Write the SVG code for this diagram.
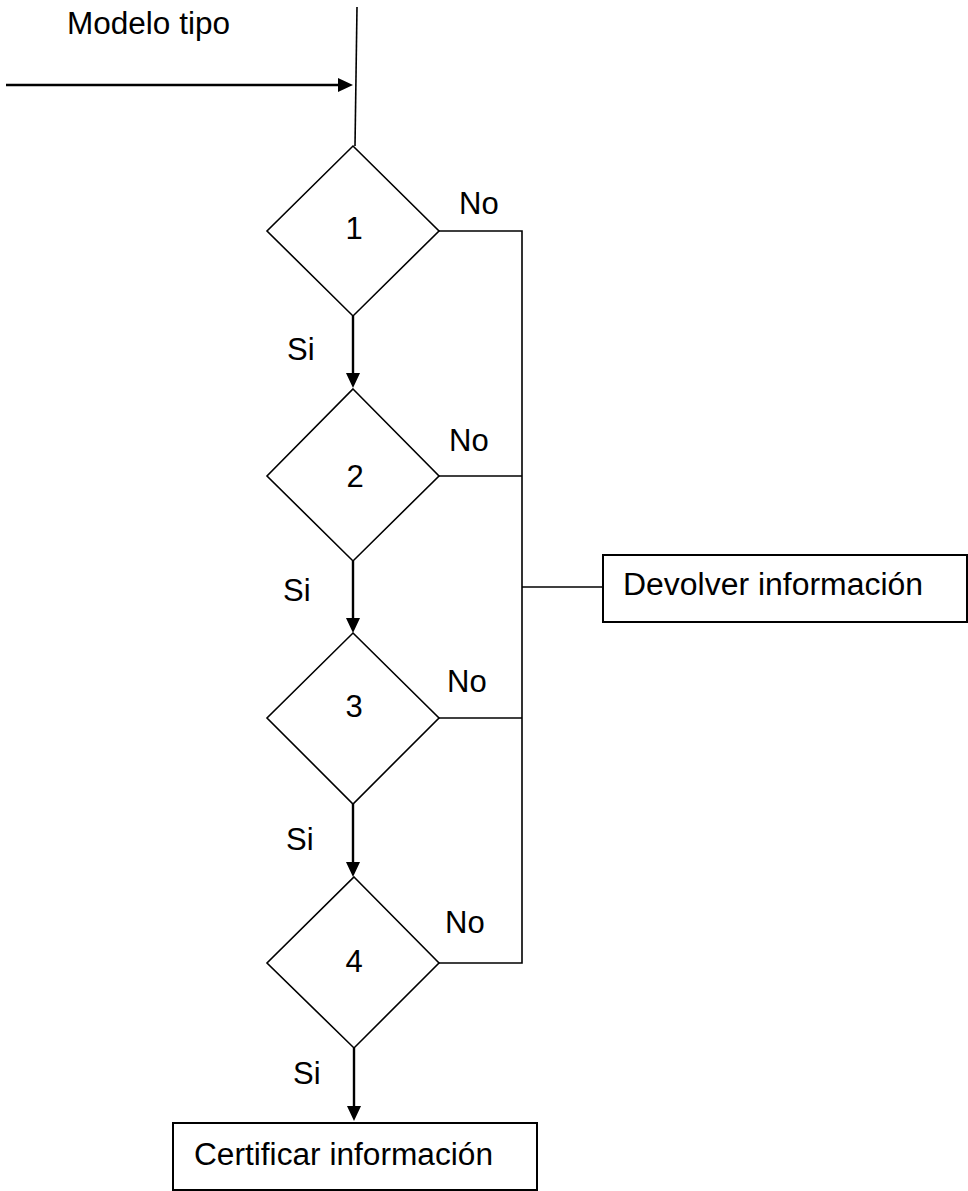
<svg xmlns="http://www.w3.org/2000/svg" width="968" height="1191" viewBox="0 0 968 1191">
  <style>
    .shape { fill: #ffffff; stroke: #000000; stroke-width: 1.6; }
    .box { fill: #ffffff; stroke: #000000; stroke-width: 2; }
    .line { fill: none; stroke: #000000; stroke-width: 1.6; }
    .arrow { fill: none; stroke: #000000; stroke-width: 2.4; marker-end: url(#head); }
    text { font-family: "Liberation Sans", Arial, sans-serif; font-size: 31px; fill: #000000; }
    .mid { text-anchor: middle; }
  </style>
  <defs>
    <marker id="head" markerUnits="userSpaceOnUse" markerWidth="16" markerHeight="14" refX="5" refY="7" orient="auto">
      <path d="M0,0 L15,7 L0,14 z" fill="#000000"/>
    </marker>
  </defs>
  <rect width="968" height="1191" fill="#ffffff"/>

  <g id="connectors">
    <line class="line" x1="357" y1="7" x2="355" y2="146"/>
    <line class="arrow" x1="6" y1="85" x2="343" y2="85"/>
    <line class="arrow" x1="353" y1="316" x2="353" y2="378"/>
    <line class="arrow" x1="353" y1="561" x2="353" y2="623"/>
    <line class="arrow" x1="353" y1="804" x2="353" y2="867"/>
    <line class="arrow" x1="354" y1="1048" x2="354" y2="1111"/>
    <polyline class="line" points="439,231 522,231 522,963 439,963"/>
    <line class="line" x1="439" y1="476" x2="522" y2="476"/>
    <line class="line" x1="439" y1="718" x2="522" y2="718"/>
    <line class="line" x1="522" y1="587" x2="603" y2="587"/>
    <text x="67" y="34" textLength="163" lengthAdjust="spacingAndGlyphs">Modelo tipo</text>
    <text x="459" y="214">No</text>
    <text x="287" y="360">Si</text>
    <text x="449" y="451">No</text>
    <text x="283" y="601">Si</text>
    <text x="447" y="692">No</text>
    <text x="286" y="850">Si</text>
    <text x="445" y="933">No</text>
    <text x="293" y="1084">Si</text>
  </g>

  <g id="decision1">
    <polygon class="shape" points="353,146 439,231 353,316 267,231"/>
    <text class="mid" x="354" y="239">1</text>
  </g>
  <g id="decision2">
    <polygon class="shape" points="353,389 439,476 353,561 267,476"/>
    <text class="mid" x="355" y="487">2</text>
  </g>
  <g id="decision3">
    <polygon class="shape" points="353,633 439,718 353,804 267,718"/>
    <text class="mid" x="354" y="717">3</text>
  </g>
  <g id="decision4">
    <polygon class="shape" points="354,877 439,963 354,1048 267,963"/>
    <text class="mid" x="354" y="972">4</text>
  </g>
  <g id="devolver">
    <rect class="box" x="603" y="555" width="364" height="67"/>
    <text x="623" y="595" textLength="300" lengthAdjust="spacingAndGlyphs">Devolver información</text>
  </g>
  <g id="certificar">
    <rect class="box" x="173" y="1123" width="364" height="67"/>
    <text x="194" y="1165" textLength="299" lengthAdjust="spacingAndGlyphs">Certificar información</text>
  </g>
</svg>
